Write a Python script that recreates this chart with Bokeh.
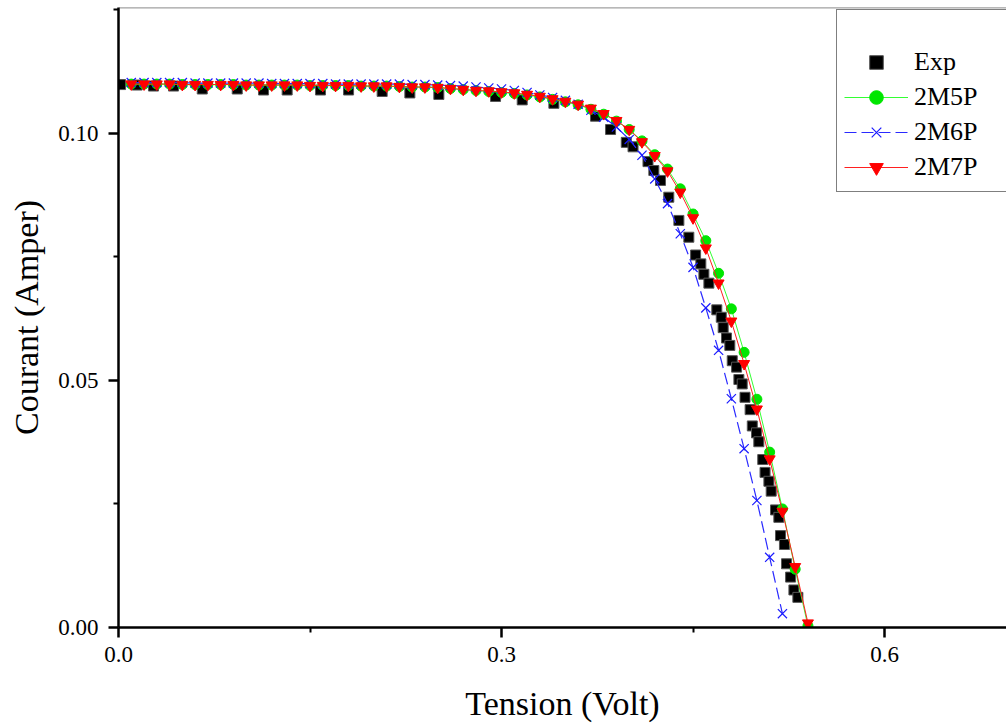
from bokeh.plotting import figure
from bokeh.models import (Range1d, FixedTicker, NumeralTickFormatter, Legend, LegendItem, Span)
from bokeh.embed import file_html
from bokeh.resources import INLINE

# ---- data ----
v_exp = [0.0016, 0.0146, 0.0274, 0.0431, 0.0656, 0.0930, 0.1136, 0.1321, 0.1582, 0.1802,
         0.2065, 0.2282, 0.2509, 0.2953, 0.3162, 0.3410, 0.3736, 0.3854, 0.3977, 0.4030,
         0.4147, 0.4193, 0.4245, 0.4310, 0.4389, 0.4467, 0.4520, 0.4561, 0.4585, 0.4624,
         0.4686, 0.4721, 0.4736, 0.4762, 0.4788, 0.4807, 0.4841, 0.4859, 0.4885, 0.4907,
         0.4947, 0.4964, 0.4997, 0.5015, 0.5046, 0.5064, 0.5094, 0.5112, 0.5146, 0.5172,
         0.5185, 0.5216, 0.5232, 0.5264, 0.5290, 0.5321]
i_exp = [0.1099, 0.1098, 0.1096, 0.1096, 0.1090, 0.1090, 0.1088, 0.1088, 0.1088, 0.1088,
         0.1085, 0.1082, 0.1079, 0.1075, 0.1068, 0.1061, 0.1035, 0.1008, 0.0982, 0.0973,
         0.0943, 0.0925, 0.0905, 0.0871, 0.0824, 0.0790, 0.0754, 0.0736, 0.0715, 0.0697,
         0.0643, 0.0628, 0.0607, 0.0586, 0.0571, 0.0540, 0.0527, 0.0502, 0.0493, 0.0466,
         0.0441, 0.0408, 0.0394, 0.0376, 0.0340, 0.0314, 0.0296, 0.0276, 0.0238, 0.0223,
         0.0186, 0.0168, 0.0129, 0.0102, 0.0076, 0.0061]

v_model = [0.01, 0.02, 0.03, 0.04, 0.05, 0.06, 0.07, 0.08, 0.09, 0.10,
           0.11, 0.12, 0.13, 0.14, 0.15, 0.16, 0.17, 0.18, 0.19, 0.20,
           0.21, 0.22, 0.23, 0.24, 0.25, 0.26, 0.27, 0.28, 0.29, 0.30,
           0.31, 0.32, 0.33, 0.34, 0.35, 0.36, 0.37, 0.38, 0.39, 0.40,
           0.41, 0.42, 0.43, 0.44, 0.45, 0.46, 0.47, 0.48, 0.49, 0.50,
           0.51, 0.52, 0.53, 0.54]

i_2m7p = [0.1100, 0.1100, 0.1100, 0.1100, 0.1099, 0.1099, 0.1099, 0.1099, 0.1099, 0.1098,
          0.1098, 0.1098, 0.1098, 0.1098, 0.1097, 0.1097, 0.1097, 0.1097, 0.1096, 0.1096,
          0.1096, 0.1095, 0.1094, 0.1094, 0.1093, 0.1091, 0.1089, 0.1087, 0.1086, 0.1084,
          0.1082, 0.1079, 0.1075, 0.1070, 0.1065, 0.1059, 0.1051, 0.1040, 0.1026, 0.1008,
          0.0983, 0.0955, 0.0924, 0.0881, 0.0829, 0.0768, 0.0697, 0.0620, 0.0534, 0.0442,
          0.0341, 0.0235, 0.0123, 0.0009]

i_2m5p = [0.1100, 0.1100, 0.1100, 0.1100, 0.1099, 0.1099, 0.1099, 0.1099, 0.1099, 0.1098,
          0.1098, 0.1098, 0.1098, 0.1098, 0.1097, 0.1097, 0.1097, 0.1097, 0.1096, 0.1096,
          0.1096, 0.1095, 0.1094, 0.1094, 0.1093, 0.1091, 0.1089, 0.1087, 0.1085, 0.1083,
          0.1081, 0.1078, 0.1074, 0.1069, 0.1064, 0.1058, 0.1049, 0.1039, 0.1025, 0.1008,
          0.0985, 0.0957, 0.0928, 0.0888, 0.0837, 0.0783, 0.0717, 0.0645, 0.0557, 0.0462,
          0.0355, 0.0240, 0.0118, 0.0003]

v_2m6p = [0.01, 0.02, 0.03, 0.04, 0.05, 0.06, 0.07, 0.08, 0.09, 0.10,
          0.11, 0.12, 0.13, 0.14, 0.15, 0.16, 0.17, 0.18, 0.19, 0.20,
          0.21, 0.22, 0.23, 0.24, 0.25, 0.26, 0.27, 0.28, 0.29, 0.30,
          0.31, 0.32, 0.33, 0.34, 0.35, 0.36, 0.37, 0.38, 0.39, 0.40,
          0.41, 0.42, 0.43, 0.44, 0.45, 0.46, 0.47, 0.48, 0.49, 0.50,
          0.51, 0.52]
i_2m6p = [0.1103, 0.1103, 0.1103, 0.1103, 0.1103, 0.1102, 0.1102, 0.1102, 0.1102, 0.1102,
          0.1102, 0.1101, 0.1101, 0.1101, 0.1101, 0.1101, 0.1100, 0.1100, 0.1100, 0.1100,
          0.1100, 0.1100, 0.1099, 0.1099, 0.1098, 0.1097, 0.1096, 0.1094, 0.1092, 0.1090,
          0.1087, 0.1083, 0.1078, 0.1073, 0.1067, 0.1059, 0.1047, 0.1033, 0.1013, 0.0988,
          0.0956, 0.0908, 0.0858, 0.0797, 0.0729, 0.0647, 0.0561, 0.0463, 0.0362, 0.0257,
          0.0142, 0.0028]

x_ticks = [0.0, 0.3, 0.6]
x_minor = [0.15, 0.45]
y_ticks = [0.00, 0.05, 0.10]
y_minor = [0.025, 0.075, 0.125]

SERIF = "Liberation Serif"

p = figure(width=1006, height=727, output_backend="svg", toolbar_location=None,
           x_range=Range1d(0, 0.6955), y_range=Range1d(0, 0.1255),
           min_border_left=118, min_border_bottom=100, min_border_top=7, min_border_right=0)
p.background_fill_color = "white"
p.border_fill_color = "white"
p.outline_line_color = None
p.grid.visible = False

# top frame line
p.add_layout(Span(location=0.12545, dimension="width", line_color="#444444", line_width=1.2))

for ax, ticks, minor, fmt in ((p.xaxis[0], x_ticks, x_minor, "0.0"), (p.yaxis[0], y_ticks, y_minor, "0.00")):
    ax.ticker = FixedTicker(ticks=ticks, minor_ticks=minor)
    ax.formatter = NumeralTickFormatter(format=fmt)
    ax.axis_line_width = 2.5
    ax.axis_line_color = "black"
    ax.major_tick_line_width = 2.5
    ax.minor_tick_line_width = 2
    ax.major_tick_in = 0
    ax.minor_tick_in = 0
    ax.major_tick_out = 10
    ax.minor_tick_out = 5
    ax.major_label_text_font = SERIF
    ax.major_label_text_font_size = "23px"
    ax.major_label_text_color = "black"
    ax.axis_label_text_font = SERIF
    ax.axis_label_text_font_size = "34px"
    ax.axis_label_text_font_style = "normal"
    ax.axis_label_text_color = "black"

p.xaxis.axis_label = "Tension (Volt)"
p.yaxis.axis_label = "Courant (Amper)"
p.xaxis.major_label_standoff = 9
p.xaxis.axis_label_standoff = 20
p.yaxis.major_label_standoff = 10
p.yaxis.axis_label_standoff = 10

r_exp = p.scatter(v_exp, i_exp, marker="square", size=10, fill_color="black",
                  line_color="#555555", line_width=1)

l5 = p.line(v_model, i_2m5p, line_color="#33ff33", line_width=1)
s5 = p.scatter(v_model, i_2m5p, marker="circle", size=10, fill_color="#00e600", line_color="#00e600")

l6 = p.line(v_2m6p, i_2m6p, line_color="#2a2aff", line_width=1.2, line_dash="12 5")
s6 = p.scatter(v_2m6p, i_2m6p, marker="x", size=13, line_color="#1a1aff", line_width=1.2)

l7 = p.line(v_model, i_2m7p, line_color="#ff2020", line_width=1)
s7 = p.scatter(v_model, i_2m7p, marker="inverted_triangle", size=11, fill_color="#ff0000", line_color="#ff0000")

legend = Legend(items=[
    LegendItem(label="Exp", renderers=[r_exp]),
    LegendItem(label="2M5P", renderers=[l5, s5]),
    LegendItem(label="2M6P", renderers=[l6, s6]),
    LegendItem(label="2M7P", renderers=[l7, s7]),
], location=(718, 435))
legend.title = " "
legend.title_text_font_size = "20px"
legend.title_standoff = 5
legend.label_text_font = SERIF
legend.label_text_font_size = "26px"
legend.label_text_color = "black"
legend.glyph_width = 64
legend.glyph_height = 34
legend.label_height = 34
legend.label_width = 100
legend.label_standoff = 6
legend.spacing = 1
legend.padding = 7
legend.margin = 0
legend.border_line_color = "black"
legend.border_line_width = 1.5
legend.background_fill_color = "white"
legend.background_fill_alpha = 1
p.add_layout(legend)

open("out.html", "w").write(file_html(p, INLINE))
